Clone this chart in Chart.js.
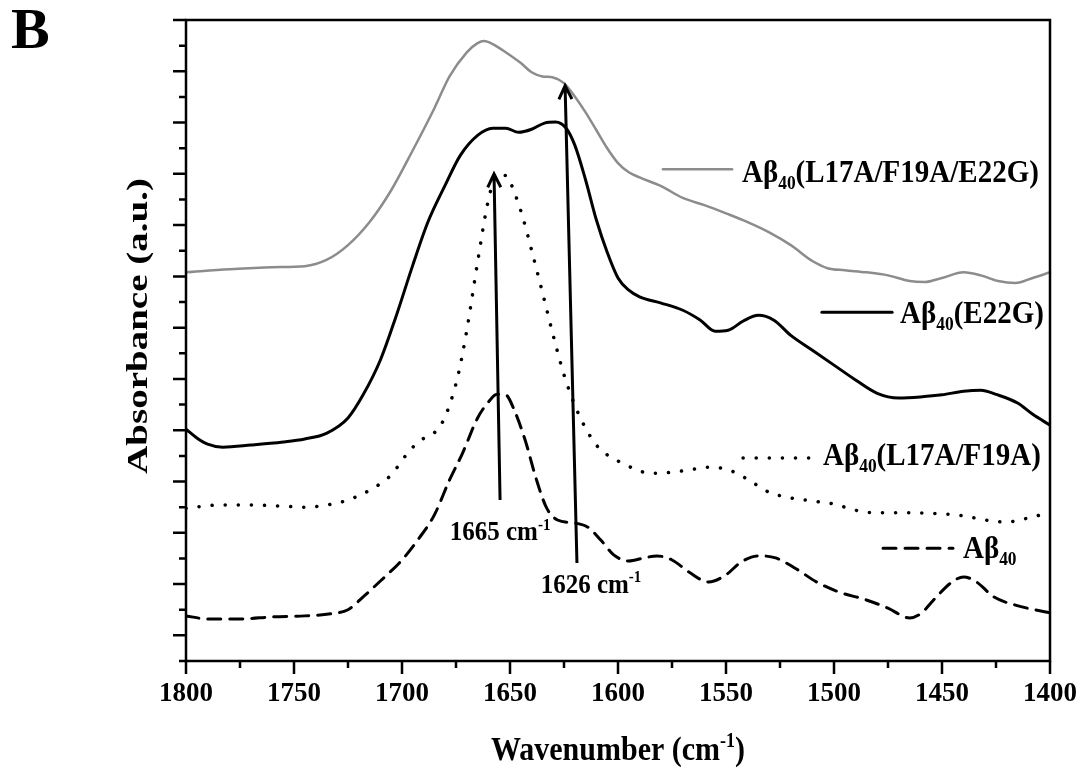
<!DOCTYPE html>
<html>
<head>
<meta charset="utf-8">
<script src="https://cdn.jsdelivr.net/npm/chart.js@4.4.1/dist/chart.umd.min.js"></script>
<style>
  body { margin: 0; background: #fff; }
  canvas { display: block; }
</style>
</head>
<body>
<canvas id="ftir" width="1082" height="774"></canvas>
<script>
const SERIF = '"Liberation Serif", "Times New Roman", serif';

// Aβ40(L17A/F19A/E22G) - grey solid
const grayWn  = [1800, 1780, 1760, 1745, 1735, 1725, 1715, 1705, 1695, 1685, 1678, 1670, 1665, 1662, 1658, 1652, 1645, 1640, 1635, 1630, 1625, 1620, 1615, 1610, 1605, 1600, 1595, 1590, 1580, 1570, 1560, 1550, 1540, 1530, 1520, 1510, 1503, 1495, 1485, 1475, 1465, 1458, 1450, 1440, 1432, 1424, 1416, 1408, 1400];
const grayAbs = [7.58, 7.64, 7.68, 7.70, 7.82, 8.11, 8.56, 9.18, 9.96, 10.78, 11.40, 11.87, 12.05, 12.09, 12.03, 11.87, 11.66, 11.48, 11.40, 11.38, 11.27, 11.01, 10.70, 10.35, 10.00, 9.71, 9.53, 9.43, 9.26, 9.03, 8.89, 8.73, 8.56, 8.36, 8.11, 7.80, 7.66, 7.62, 7.58, 7.52, 7.41, 7.39, 7.47, 7.58, 7.52, 7.41, 7.37, 7.47, 7.58];

// Aβ40(E22G) - black solid
const e22gWn  = [1800, 1795, 1790, 1783, 1770, 1755, 1745, 1735, 1725, 1718, 1710, 1703, 1695, 1688, 1680, 1673, 1665, 1658, 1652, 1646, 1640, 1634, 1629, 1624, 1620, 1615, 1610, 1605, 1600, 1595, 1590, 1580, 1570, 1562, 1555, 1549, 1542, 1535, 1528, 1520, 1510, 1500, 1490, 1480, 1470, 1460, 1450, 1440, 1432, 1425, 1415, 1408, 1400];
const e22gAbs = [4.52, 4.35, 4.23, 4.17, 4.21, 4.27, 4.33, 4.44, 4.74, 5.19, 5.87, 6.69, 7.72, 8.56, 9.28, 9.86, 10.25, 10.39, 10.39, 10.31, 10.37, 10.49, 10.51, 10.39, 10.06, 9.38, 8.60, 7.97, 7.47, 7.23, 7.10, 6.98, 6.84, 6.65, 6.43, 6.45, 6.63, 6.74, 6.65, 6.35, 6.06, 5.77, 5.48, 5.22, 5.13, 5.15, 5.19, 5.26, 5.28, 5.20, 5.03, 4.81, 4.60];

// Aβ40(L17A/F19A) - dotted
const dblWn  = [1800, 1785, 1770, 1755, 1745, 1735, 1725, 1715, 1705, 1698, 1692, 1686, 1682, 1678, 1674, 1670, 1665, 1660, 1656, 1652, 1648, 1644, 1640, 1635, 1630, 1625, 1620, 1615, 1610, 1605, 1600, 1593, 1585, 1575, 1565, 1558, 1552, 1545, 1538, 1530, 1520, 1510, 1500, 1490, 1480, 1465, 1450, 1440, 1430, 1420, 1412, 1406, 1400];
const dblAbs = [2.98, 3.04, 3.04, 3.02, 3.00, 3.04, 3.14, 3.33, 3.63, 4.02, 4.29, 4.42, 4.60, 4.99, 5.58, 6.45, 7.78, 8.99, 9.47, 9.47, 9.14, 8.64, 8.01, 7.19, 6.35, 5.58, 4.99, 4.54, 4.21, 4.02, 3.90, 3.76, 3.66, 3.68, 3.74, 3.78, 3.76, 3.66, 3.49, 3.29, 3.18, 3.12, 3.06, 2.94, 2.89, 2.89, 2.87, 2.83, 2.75, 2.71, 2.77, 2.83, 2.92];

// Aβ40 - dashed
const wtWn  = [1800, 1790, 1775, 1760, 1745, 1733, 1725, 1718, 1710, 1700, 1692, 1685, 1678, 1672, 1665, 1660, 1656, 1652, 1648, 1643, 1638, 1633, 1628, 1620, 1614, 1608, 1602, 1595, 1588, 1582, 1575, 1567, 1558, 1550, 1543, 1535, 1527, 1518, 1508, 1498, 1485, 1475, 1465, 1460, 1453, 1446, 1440, 1434, 1426, 1416, 1400];
const wtAbs = [0.88, 0.82, 0.82, 0.86, 0.88, 0.92, 1.00, 1.25, 1.56, 1.97, 2.40, 2.85, 3.53, 4.05, 4.74, 5.05, 5.20, 5.19, 4.89, 4.31, 3.57, 2.98, 2.75, 2.69, 2.61, 2.36, 2.07, 1.95, 2.01, 2.05, 1.97, 1.73, 1.54, 1.68, 1.93, 2.05, 2.01, 1.81, 1.54, 1.35, 1.19, 1.03, 0.84, 0.92, 1.23, 1.52, 1.64, 1.54, 1.25, 1.09, 0.94];

const xTicks = [1800, 1750, 1700, 1650, 1600, 1550, 1500, 1450, 1400];

// peak arrows: [wn bottom, abs bottom], [wn tip, abs tip], label anchor
const arrows = [
  { from: [1654.6, 3.14], to: [1657.4, 9.50], label: '1665', at: [1654.6, 2.36] },
  { from: [1619.0, 1.91], to: [1624.5, 11.22], label: '1626', at: [1612.5, 1.33] }
];

const GRAY = '#8c8c8c';
const styles = [
  { color: GRAY, width: 2.5, dash: [] },
  { color: '#000', width: 3, dash: [] },
  { color: '#000', width: 3.5, dash: [0.1, 13] },
  { color: '#000', width: 3, dash: [13, 9] }
];

// legend rows: line start/end wn, line abs, text start wn, text baseline abs
const legendRows = [
  { name: '(L17A/F19A/E22G)', line: [1579.2, 1547.2, 9.59], text: [1542.6, 9.34] },
  { name: '(E22G)',           line: [1505.6, 1473.1, 6.80], text: [1469.4, 6.59] },
  { name: '(L17A/F19A)',      line: [1542.1, 1509.7, 3.96], text: [1505.1, 3.82] },
  { name: '',                 line: [1477.3, 1444.9, 2.20], text: [1440.3, 2.01] }
];

function pairs(xs, ys) {
  return xs.map((v, i) => ({ x: v, y: ys[i] }));
}

function drawRich(ctx, x, y, segs, fs, align, sy) {
  let total = 0;
  segs.forEach(s => {
    const size = s.sub || s.sup ? fs * 0.6 : fs;
    ctx.font = 'bold ' + size + 'px ' + SERIF;
    s.w = ctx.measureText(s.t).width;
    s.size = size;
    total += s.w;
  });
  let cx = align === 'center' ? -total / 2 : 0;
  ctx.save();
  ctx.translate(x, y);
  ctx.scale(1, sy);
  ctx.fillStyle = '#000';
  ctx.textAlign = 'left';
  ctx.textBaseline = 'alphabetic';
  segs.forEach(s => {
    ctx.font = 'bold ' + s.size + 'px ' + SERIF;
    const dy = s.sub ? fs * 0.22 : s.sup ? -fs * 0.38 : 0;
    ctx.fillText(s.t, cx, dy);
    cx += s.w;
  });
  ctx.restore();
}

function drawArrow(ctx, x0, y0, x1, y1) {
  const ang = Math.atan2(y1 - y0, x1 - x0);
  const head = 15, spread = 0.45;
  ctx.beginPath();
  ctx.moveTo(x0, y0);
  ctx.lineTo(x1, y1);
  ctx.moveTo(x1 - head * Math.cos(ang - spread), y1 - head * Math.sin(ang - spread));
  ctx.lineTo(x1, y1);
  ctx.lineTo(x1 - head * Math.cos(ang + spread), y1 - head * Math.sin(ang + spread));
  ctx.stroke();
}

const decor = {
  id: 'decor',
  afterDatasetsDraw(chart) {
    const { ctx, chartArea: a, scales: { x, y } } = chart;
    ctx.save();
    ctx.strokeStyle = '#000';
    ctx.lineWidth = 2.5;
    ctx.setLineDash([]);
    ctx.strokeRect(a.left, a.top, a.right - a.left, a.bottom - a.top);

    // tick marks, major and minor
    ctx.beginPath();
    for (let v = 1400; v <= 1800; v += 25) {
      const px = x.getPixelForValue(v);
      const len = v % 50 === 0 ? 13 : 7;
      ctx.moveTo(px, a.bottom);
      ctx.lineTo(px, a.bottom + len);
    }
    for (let i = 0; i <= 25; i++) {
      const py = y.getPixelForValue(i / 2);
      const len = i % 2 === 1 ? 13 : 7;
      ctx.moveTo(a.left, py);
      ctx.lineTo(a.left - len, py);
    }
    ctx.stroke();

    // arrows + labels
    ctx.lineWidth = 3;
    arrows.forEach(ar => {
      drawArrow(ctx,
        x.getPixelForValue(ar.from[0]), y.getPixelForValue(ar.from[1]),
        x.getPixelForValue(ar.to[0]), y.getPixelForValue(ar.to[1]));
      drawRich(ctx, x.getPixelForValue(ar.at[0]), y.getPixelForValue(ar.at[1]),
        [{ t: ar.label + ' cm' }, { t: '-1', sup: true }], 25, 'center', 1.1);
    });

    // legend
    legendRows.forEach((row, i) => {
      const st = styles[i];
      ctx.strokeStyle = st.color;
      ctx.lineWidth = st.width;
      ctx.lineCap = 'round';
      ctx.setLineDash(st.dash);
      ctx.beginPath();
      const ly = y.getPixelForValue(row.line[2]);
      ctx.moveTo(x.getPixelForValue(row.line[0]), ly);
      ctx.lineTo(x.getPixelForValue(row.line[1]), ly);
      ctx.stroke();
      ctx.setLineDash([]);
      drawRich(ctx, x.getPixelForValue(row.text[0]), y.getPixelForValue(row.text[1]),
        [{ t: 'A\u03B2' }, { t: '40', sub: true }, { t: row.name }], 29, 'left', 1.12);
    });
    ctx.restore();
  },
  afterDraw(chart) {
    const { ctx, chartArea: a } = chart;
    ctx.save();
    // axis titles
    drawRich(ctx, (a.left + a.right) / 2, 760,
      [{ t: 'Wavenumber (cm' }, { t: '-1', sup: true }, { t: ')' }], 30, 'center', 1.12);
    ctx.translate(147, 326);
    ctx.rotate(-Math.PI / 2);
    ctx.scale(1.3, 1);
    ctx.fillStyle = '#000';
    ctx.font = 'bold 30px ' + SERIF;
    ctx.textAlign = 'center';
    ctx.textBaseline = 'alphabetic';
    ctx.fillText('Absorbance (a.u.)', 0, 0);
    ctx.restore();
    // panel letter
    drawRich(ctx, 11, 48, [{ t: 'B' }], 58, 'left', 1.0);
  }
};

const series = [pairs(grayWn, grayAbs), pairs(e22gWn, e22gAbs), pairs(dblWn, dblAbs), pairs(wtWn, wtAbs)];

new Chart(document.getElementById('ftir'), {
  type: 'line',
  data: {
    datasets: series.map((d, i) => ({
      data: d,
      borderColor: styles[i].color,
      borderWidth: styles[i].width,
      borderDash: styles[i].dash,
      borderCapStyle: 'round',
      pointRadius: 0,
      fill: false,
      cubicInterpolationMode: 'monotone'
    }))
  },
  options: {
    responsive: false,
    animation: false,
    events: [],
    layout: { padding: { top: 20, right: 32, left: 0, bottom: 0 } },
    plugins: { legend: { display: false }, tooltip: { enabled: false } },
    scales: {
      x: {
        type: 'linear',
        min: 1400,
        max: 1800,
        reverse: true,
        afterFit: s => { s.height = 113; s.paddingLeft = 0; s.paddingRight = 0; },
        afterBuildTicks: s => { s.ticks = xTicks.map(v => ({ value: v })); },
        grid: { display: false, drawTicks: false },
        border: { display: false },
        ticks: {
          padding: 17,
          color: '#000',
          maxRotation: 0,
          callback: v => String(v),
          font: { family: SERIF, size: 27, weight: 'bold' }
        }
      },
      y: {
        type: 'linear',
        min: 0,
        max: 12.5,
        afterFit: s => { s.width = 186; },
        grid: { display: false, drawTicks: false },
        border: { display: false },
        ticks: { display: false }
      }
    }
  },
  plugins: [decor]
});
</script>
</body>
</html>
